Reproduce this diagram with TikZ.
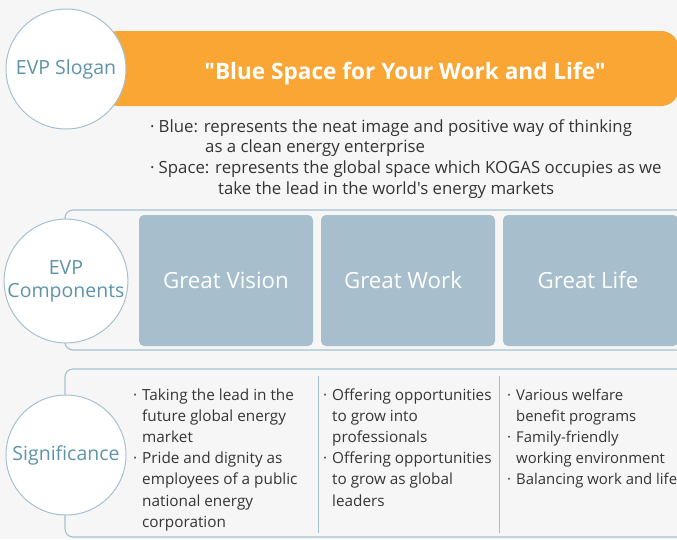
\documentclass[tikz,border=0pt]{standalone}
\usepackage{fontspec}
\setmainfont{Open Sans}
\newfontfamily\plainos{Open Sans}
\definecolor{bgc}{HTML}{F6F6F6}
\definecolor{orangec}{HTML}{F9A634}
\definecolor{boxc}{HTML}{A7BFCC}
\definecolor{ringc}{HTML}{A5C1D0}
\definecolor{labelc}{HTML}{5E94AA}
\definecolor{txtc}{HTML}{353535}
\newcommand{\bul}[1]{\par\hangindent=9pt\hangafter=1\makebox[9pt][l]{·}#1}
\newcommand{\nl}{\newline}
\begin{document}
\begin{tikzpicture}[x=1pt,y=-1pt,
  frame/.style={draw=ringc, line width=1.1pt, rounded corners=8pt},
  ring/.style={circle, draw=ringc, line width=1pt, fill=white, minimum size=120pt, inner sep=0pt, align=center, text=labelc, font=\fontsize{19.5}{25}\selectfont},
  compbox/.style={fill=boxc, rounded corners=5pt, minimum height=131pt, inner sep=0pt, text=white, font=\fontsize{22.3}{26}\selectfont},
  bline/.style={anchor=base west, inner sep=0pt, text=txtc, font=\fontsize{16.8}{21}\selectfont},
  colt/.style={anchor=base west, inner sep=0pt, text=txtc, font=\fontsize{15.3}{21.2}\selectfont},
  divider/.style={draw=ringc, line width=1pt}]
\fill[bgc] (0,0) rectangle (677,539);
\useasboundingbox (0,0) rectangle (677,539);
% frames
\draw[frame] (65,210) rectangle (700,350);
\draw[frame] (65,369) rectangle (700,537);
% slogan bar
\node[fill=orangec, rounded corners=18pt, minimum width=579pt, minimum height=75pt, inner sep=0pt] (bar) at (389.5,68.5) {};
\node[anchor=base, inner sep=0pt, text=white, font=\plainos\fontsize{22.6}{26}\selectfont\bfseries] (slogan) at (405,79) {"Blue Space for Your Work and Life"};
% circles
\node[ring] (c1) at (66,69) {EVP Slogan};
\node[ring] (c2) at (66,281) {EVP\\[-2pt]Components};
\node[ring] (c3) at (66,455) {Significance};
% slogan bullets
\node[bline] (s1) at (150,132) {·\hspace{4pt}Blue: represents the neat image and positive way of thinking};
\node[bline] (s2) at (205,152) {as a clean energy enterprise};
\node[bline] (s3) at (150,173) {·\hspace{4pt}Space: represents the global space which KOGAS occupies as we};
\node[bline] (s4) at (218,194) {take the lead in the world{\plainos 's} energy markets};
% component boxes
\node[compbox, minimum width=174pt] (gv) at (226,280.5) {Great Vision};
\node[compbox, minimum width=174pt] (gw) at (408,280.5) {\hspace*{-10pt}Great Work};
\node[compbox, minimum width=175pt] (gl) at (590.5,280.5) {\hspace*{-5pt}Great Life};
% dividers
\coordinate (d1t) at (318,376); \coordinate (d1b) at (318,533);
\coordinate (d2t) at (499,376); \coordinate (d2b) at (499,533);
\draw[divider] (d1t) -- (d1b);
\draw[divider] (d2t) -- (d2b);
% significance columns
\node[colt] (k1) at (133,400) {\begin{minipage}[t]{200pt}\raggedright
\bul{Taking the lead in the\nl future global energy\nl market}
\bul{Pride and dignity as\nl employees of a public\nl national energy\nl corporation}\end{minipage}};
\node[colt] (k2) at (323,400) {\begin{minipage}[t]{200pt}\raggedright
\bul{Offering opportunities\nl to grow into\nl professionals}
\bul{Offering opportunities\nl to grow as global\nl leaders}\end{minipage}};
\node[colt, font=\fontsize{14.9}{21.2}\selectfont] (k3) at (507,400) {\begin{minipage}[t]{200pt}\raggedright
\bul{Various welfare\nl benefit programs}
\bul{Family-friendly\nl working environment}
\bul{Balancing work and life}\end{minipage}};
\end{tikzpicture}
\end{document}
